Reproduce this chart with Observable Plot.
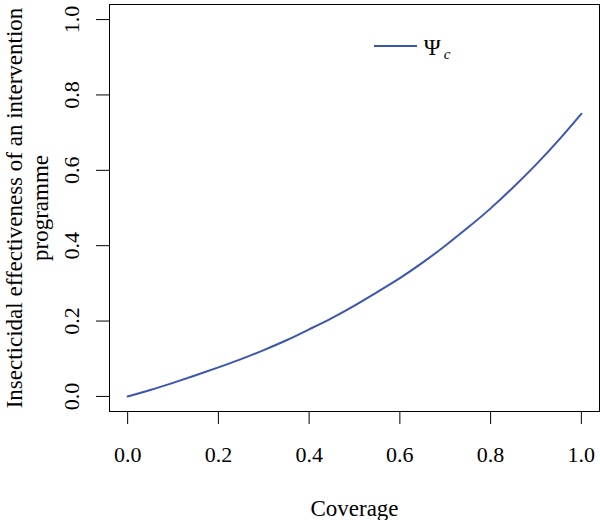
<!DOCTYPE html>
<html>
<head>
<meta charset="utf-8">
<script src="https://cdn.jsdelivr.net/npm/d3@7"></script>
<script src="https://cdn.jsdelivr.net/npm/@observablehq/plot@0.6"></script>
<style>
  body { margin: 0; background: #fff; }
  #wrap { width: 600px; height: 520px; }
</style>
</head>
<body>
<div id="wrap"></div>
<script>
// Data
const coverage = [0, 0.05, 0.1, 0.15, 0.2, 0.25, 0.3, 0.35, 0.4, 0.45, 0.5, 0.55, 0.6, 0.65, 0.7, 0.75, 0.8, 0.85, 0.9, 0.95, 1.0];
const psiC = [0, 0.017, 0.036, 0.056, 0.077, 0.099, 0.123, 0.149, 0.178, 0.208, 0.241, 0.277, 0.314, 0.355, 0.400, 0.448, 0.499, 0.555, 0.615, 0.680, 0.750];
const xTicks = [0, 0.2, 0.4, 0.6, 0.8, 1.0];
const yTicks = [0, 0.2, 0.4, 0.6, 0.8, 1.0];
const xLabel = "Coverage";
const yLabel = "Insecticidal effectiveness of an intervention\nprogramme";
const seriesSymbol = "Ψ";
const seriesSub = "c";
const lineColor = "#3b55b2";

const data = coverage.map((c, i) => ({c, v: psiC[i]}));
const font = "'Liberation Serif', 'Times New Roman', serif";

const chart = Plot.plot({
  width: 600,
  height: 520,
  marginLeft: 109,
  marginRight: 1,
  marginTop: 4,
  marginBottom: 109,
  style: {fontFamily: font, fontSize: "22px", background: "white", color: "black"},
  x: {domain: [-0.04, 1.04]},
  y: {domain: [-0.04, 1.04]},
  marks: [
    Plot.frame({stroke: "black", strokeWidth: 1}),
    Plot.axisX({ticks: xTicks, tickSize: 13, tickPadding: 22, tickFormat: d => d.toFixed(1), label: null, fontSize: 22}),
    Plot.axisY({ticks: yTicks, tickSize: 13, tickRotate: -90, tickPadding: 18, tickFormat: d => d.toFixed(1), label: null, fontSize: 22}),
    Plot.line(data, {x: "c", y: "v", stroke: lineColor, strokeWidth: 2, curve: "natural"}),
    Plot.text([xLabel], {frameAnchor: "bottom", dy: 97, text: d => d, fontSize: 23, lineAnchor: "middle", textAnchor: "middle"}),
    Plot.text([yLabel], {frameAnchor: "left", rotate: -90, dx: -62, text: d => d, fontSize: 23, lineAnchor: "bottom", textAnchor: "middle", lineHeight: 1.1})
  ]
});

// Legend appended into the same SVG
const svg = d3.select(chart);
const lg = svg.append("g").attr("class", "legend");
lg.append("line").attr("x1", 374).attr("x2", 417).attr("y1", 46).attr("y2", 46)
  .attr("stroke", lineColor).attr("stroke-width", 2);
const t = lg.append("text").attr("x", 437).attr("y", 55)
  .attr("font-family", font).attr("font-size", 23).attr("fill", "black");
t.append("tspan").text(seriesSymbol);
t.append("tspan").attr("dx", 3).attr("dy", 4).attr("font-size", 15).attr("font-style", "italic").text(seriesSub);

document.getElementById("wrap").appendChild(chart);
</script>
</body>
</html>
